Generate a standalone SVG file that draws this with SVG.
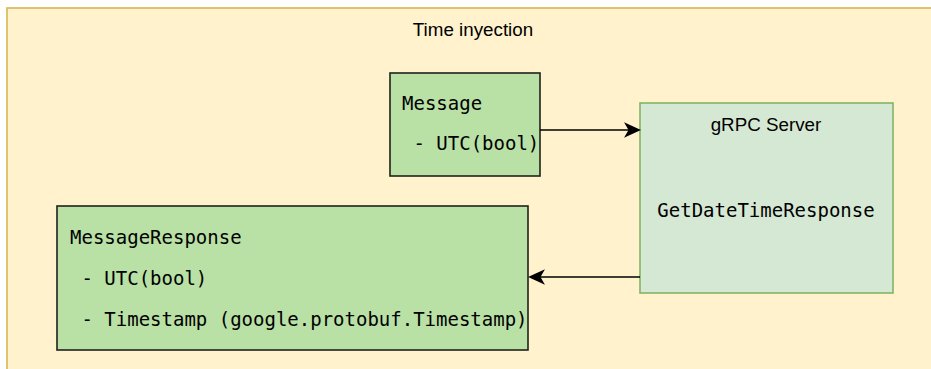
<svg xmlns="http://www.w3.org/2000/svg" width="931" height="369" viewBox="0 0 931 369">
<style>
.sans{font-family:"Liberation Sans",Arial,sans-serif;font-size:18.8px;fill:#000}
.mono{font-family:"DejaVu Sans Mono",monospace;font-size:19px;fill:#000}
.conn{stroke:#000;stroke-width:1.6;fill:none}
.head{fill:#000;stroke:#000;stroke-width:1.6;stroke-linejoin:miter}
</style>
<rect x="0" y="0" width="931" height="369" fill="#ffffff"/>
<g id="container">
<rect x="7" y="8" width="940" height="380" fill="#fff2cc" stroke="#d6b656" stroke-width="1.6"/>
<text class="sans" x="473" y="36" text-anchor="middle">Time inyection</text>
</g>
<g id="message">
<rect x="390" y="73" width="150" height="103" fill="#b9e0a5" stroke="#1e221c" stroke-width="1.6"/>
<text class="mono" x="402" y="110">Message</text>
<text class="mono" x="402" y="150" xml:space="preserve"> - UTC(bool)</text>
</g>
<g id="grpc-server">
<rect x="640" y="103" width="253" height="190" fill="#d5e8d4" stroke="#82b366" stroke-width="1.6"/>
<text class="sans" x="766" y="131" text-anchor="middle">gRPC Server</text>
<text class="mono" x="766" y="217" text-anchor="middle">GetDateTimeResponse</text>
</g>
<g id="message-response">
<rect x="57" y="206" width="471" height="144" fill="#b9e0a5" stroke="#1e221c" stroke-width="1.6"/>
<text class="mono" x="70" y="244">MessageResponse</text>
<text class="mono" x="70" y="285" xml:space="preserve"> - UTC(bool)</text>
<text class="mono" x="70" y="326" xml:space="preserve"> - Timestamp (google.protobuf.Timestamp)</text>
</g>
<g id="connectors">
<path class="conn" d="M540 130 H630"/>
<path class="head" d="M639 130 L626 124 L629.5 130 L626 136 Z"/>
<path class="conn" d="M640 277 H539"/>
<path class="head" d="M530 277 L543 271 L539.5 277 L543 283 Z"/>
</g>
</svg>
